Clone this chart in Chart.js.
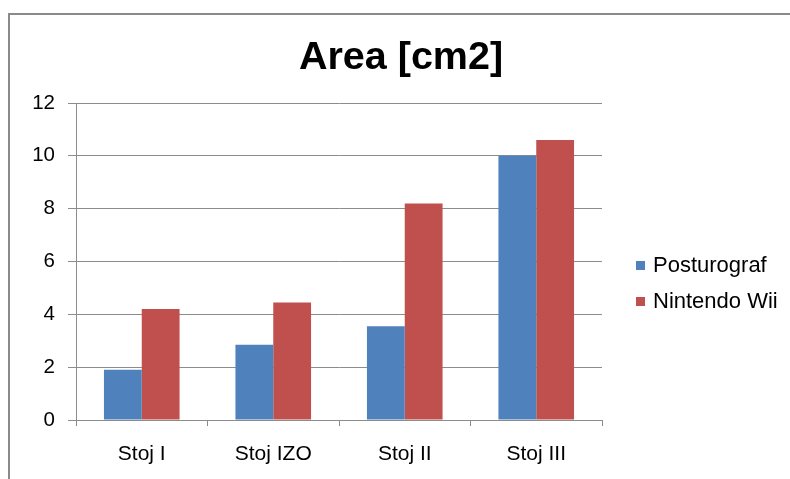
<!DOCTYPE html>
<html>
<head>
<meta charset="utf-8">
<script src="https://cdn.jsdelivr.net/npm/chart.js@4.4.1/dist/chart.umd.min.js"></script>
<style>
  html, body { margin: 0; padding: 0; background: #fff; overflow: hidden; }
  #wrap { position: relative; width: 790px; height: 479px; }
  #frame { position: absolute; left: 8px; top: 13px; width: 1000px; height: 1000px;
           border-left: 2px solid #8a8a8a; border-top: 2px solid #8a8a8a; box-sizing: border-box; }
  #chart { position: absolute; left: 0; top: 0; }
  #legend { position: absolute; left: 636px; top: 247px; font-family: "Liberation Sans", Arial, sans-serif;
            font-size: 22px; color: #000; }
  .item { display: flex; align-items: center; height: 36px; }
  .box { width: 9px; height: 9px; margin-right: 8px; }
</style>
</head>
<body>
<div id="wrap">
  <div id="frame"></div>
  <canvas id="chart" width="790" height="479"></canvas>
  <div id="legend"></div>
</div>
<script>
// data
var categories = ['Stoj I', 'Stoj IZO', 'Stoj II', 'Stoj III'];
var seriesNames = ['Posturograf', 'Nintendo Wii'];
var posturografValues = [1.9, 2.85, 3.55, 10.0];
var wiiValues = [4.2, 4.45, 8.2, 10.6];
var seriesColors = ['#4F81BD', '#C0504D'];
var yTicks = [0, 2, 4, 6, 8, 10, 12];

var gridColor = '#8c8c8c';
var fontFamily = '"Liberation Sans", Arial, sans-serif';

var ctx = document.getElementById('chart').getContext('2d');
var barChart = new Chart(ctx, {
    type: 'bar',
    data: {
        labels: categories,
        datasets: [{
            label: seriesNames[0],
            data: posturografValues,
            backgroundColor: seriesColors[0]
        }, {
            label: seriesNames[1],
            data: wiiValues,
            backgroundColor: seriesColors[1]
        }]
    },
    options: {
        responsive: false,
        animation: false,
        categoryPercentage: 0.575,
        barPercentage: 1,
        layout: { padding: { left: 12, right: 0, top: 0, bottom: 0 } },
        plugins: {
            legend: { display: false },
            tooltip: { enabled: false },
            title: {
                display: true,
                text: 'Area [cm2]',
                color: '#000',
                font: { family: fontFamily, size: 39.5, weight: 'bold' },
                padding: { top: 34, bottom: 21.6 }
            }
        },
        scales: {
            x: {
                grid: { drawOnChartArea: false, drawTicks: true, tickLength: 6, color: gridColor },
                border: { color: gridColor, width: 1 },
                ticks: { color: '#000', padding: 16, font: { family: fontFamily, size: 21 } },
                afterFit: function(s) { s.height = 59; }
            },
            y: {
                min: yTicks[0],
                max: yTicks[yTicks.length - 1],
                grid: { color: gridColor, tickLength: 8 },
                border: { color: gridColor, width: 1 },
                ticks: { stepSize: 2, color: '#000', padding: 13, font: { family: fontFamily, size: 20.5 } },
                afterFit: function(s) { s.width = 64; }
            },
            // empty right axis just to reserve the legend space
            spacer: {
                type: 'linear',
                position: 'right',
                display: true,
                grid: { display: false },
                border: { display: false },
                ticks: { display: false },
                afterFit: function(s) { s.width = 188; }
            }
        }
    }
});

// legend drawn as html next to the plot
var legendDiv = document.getElementById('legend');
barChart.data.datasets.forEach(function(ds) {
    var row = document.createElement('div');
    row.className = 'item';
    var sw = document.createElement('span');
    sw.className = 'box';
    sw.style.background = ds.backgroundColor;
    var txt = document.createElement('span');
    txt.textContent = ds.label;
    row.appendChild(sw);
    row.appendChild(txt);
    legendDiv.appendChild(row);
});
</script>
</body>
</html>
